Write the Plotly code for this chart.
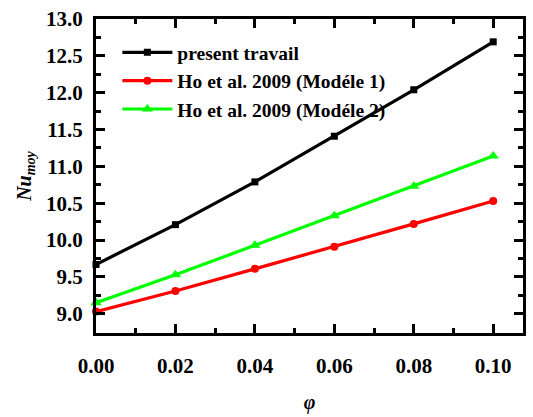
import plotly.graph_objects as go

phi = [0.00, 0.02, 0.04, 0.06, 0.08, 0.10]
present = [9.67, 10.21, 10.79, 11.41, 12.04, 12.69]
ho_m1 = [9.03, 9.31, 9.61, 9.91, 10.22, 10.53]
ho_m2 = [9.15, 9.53, 9.93, 10.33, 10.73, 11.14]
names = ["<b>present travail</b>", "<b>Ho et al. 2009 (Modéle 1)</b>", "<b>Ho et al. 2009 (Modéle 2)</b>"]

font = "'Liberation Serif', 'Times New Roman', serif"
fig = go.Figure()
fig.add_trace(go.Scatter(x=phi, y=present, name=names[0], mode="lines+markers",
                         line=dict(color="black", width=3.2),
                         marker=dict(symbol="square", size=7, color="black"), cliponaxis=False))
fig.add_trace(go.Scatter(x=phi, y=ho_m1, name=names[1], mode="lines+markers",
                         line=dict(color="#ff0000", width=3.2),
                         marker=dict(symbol="circle", size=8, color="#ff0000"), cliponaxis=False))
fig.add_trace(go.Scatter(x=phi, y=ho_m2, name=names[2], mode="lines+markers",
                         line=dict(color="#00ff00", width=3.2),
                         marker=dict(symbol="triangle-up", size=10, color="#00ff00"), cliponaxis=False))

axis_common = dict(showline=True, linecolor="black", linewidth=3, mirror="allticks",
                   ticks="inside", ticklen=9, tickwidth=3, tickcolor="black",
                   showgrid=False, zeroline=False,
                   tickfont=dict(family=font, size=21, color="black", weight="bold"))

fig.update_xaxes(range=[0, 0.1075], tickvals=[0, 0.02, 0.04, 0.06, 0.08, 0.10],
                 tickformat=".2f", ticklabelstandoff=12,
                 minor=dict(ticks="inside", ticklen=5, tickwidth=3, tickcolor="black", dtick=0.01, tick0=0),
                 title=dict(text="<b><i>φ</i></b>", font=dict(family=font, size=20, color="black"), standoff=18),
                 **axis_common)
fig.update_yaxes(range=[8.74, 13.0], tickvals=[9.0, 9.5, 10.0, 10.5, 11.0, 11.5, 12.0, 12.5, 13.0],
                 tickformat=".1f", ticklabelstandoff=6,
                 minor=dict(ticks="inside", ticklen=5, tickwidth=3, tickcolor="black", dtick=0.25, tick0=9.0),
                 title=dict(text="<b><i>Nu<sub>moy</sub></i></b>", font=dict(family=font, size=20, color="black"), standoff=10),
                 **axis_common)

fig.update_layout(width=533, height=417, margin=dict(l=96, r=7, t=18, b=71),
                  paper_bgcolor="white", plot_bgcolor="white",
                  font=dict(family=font),
                  legend=dict(x=0.05, y=0.955, xanchor="left", yanchor="top",
                              bgcolor="rgba(0,0,0,0)", tracegroupgap=0, itemwidth=50,
                              font=dict(family=font, size=19.5, color="black")))
fig.write_html("out.html")
